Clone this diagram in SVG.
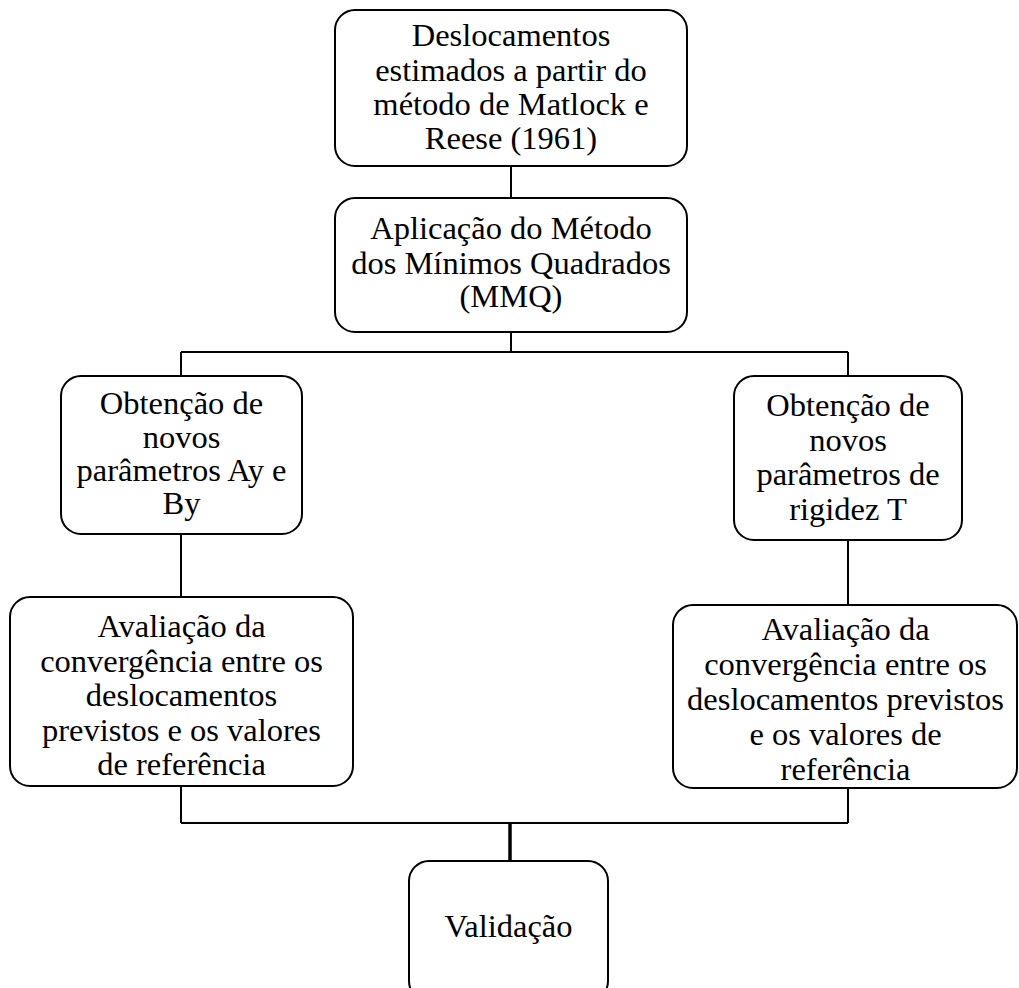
<svg xmlns="http://www.w3.org/2000/svg" width="1019" height="988" viewBox="0 0 1019 988">
<style>
.box{fill:#fff;stroke:#000;stroke-width:2}
.ln{fill:none;stroke:#000;stroke-width:2}
text{font-family:"Liberation Serif","Times New Roman",serif;font-size:32.5px;fill:#000;text-anchor:middle}
</style>
<rect width="1019" height="988" fill="#fff"/>
<g id="connectors">
<path class="ln" d="M511 166V198M511 332V352M181 352H848M181 352V376M848 352V376M181 534V597M848 540V605M181 786V823M848 788V823M181 823H848"/>
<path d="M510 823V861" stroke="#000" stroke-width="3.5" fill="none"/>
</g>
<g id="n1">
<rect class="box" x="335" y="10" width="352" height="156" rx="20"/>
<text x="511" y="46">Deslocamentos</text>
<text x="511" y="80.5">estimados a partir do</text>
<text x="511" y="114.5">método de Matlock e</text>
<text x="511" y="148.5">Reese (1961)</text>
</g>
<g id="n2">
<rect class="box" x="335" y="198" width="352" height="134" rx="20"/>
<text x="511" y="239">Aplicação do Método</text>
<text x="511" y="274">dos Mínimos Quadrados</text>
<text x="511" y="307">(MMQ)</text>
</g>
<g id="n3">
<rect class="box" x="61" y="376" width="241" height="158" rx="20"/>
<text x="181.5" y="414">Obtenção de</text>
<text x="181.5" y="448">novos</text>
<text x="181.5" y="481">parâmetros Ay e</text>
<text x="181.5" y="514">By</text>
</g>
<g id="n4">
<rect class="box" x="734" y="376" width="228" height="164" rx="20"/>
<text x="848" y="416">Obtenção de</text>
<text x="848" y="451">novos</text>
<text x="848" y="485">parâmetros de</text>
<text x="848" y="520">rigidez T</text>
</g>
<g id="n5">
<rect class="box" x="10" y="597" width="343" height="189" rx="20"/>
<text x="181.5" y="637">Avaliação da</text>
<text x="181.5" y="671.5">convergência entre os</text>
<text x="181.5" y="706">deslocamentos</text>
<text x="181.5" y="740.5">previstos e os valores</text>
<text x="181.5" y="775">de referência</text>
</g>
<g id="n6">
<rect class="box" x="673" y="605" width="344" height="183" rx="20"/>
<text x="845.5" y="640">Avaliação da</text>
<text x="845.5" y="675">convergência entre os</text>
<text x="845.5" y="710">deslocamentos previstos</text>
<text x="845.5" y="745">e os valores de</text>
<text x="845.5" y="780">referência</text>
</g>
<g id="n7">
<rect class="box" x="409" y="861" width="199" height="140" rx="20"/>
<text x="508.5" y="937">Validação</text>
</g>
</svg>
